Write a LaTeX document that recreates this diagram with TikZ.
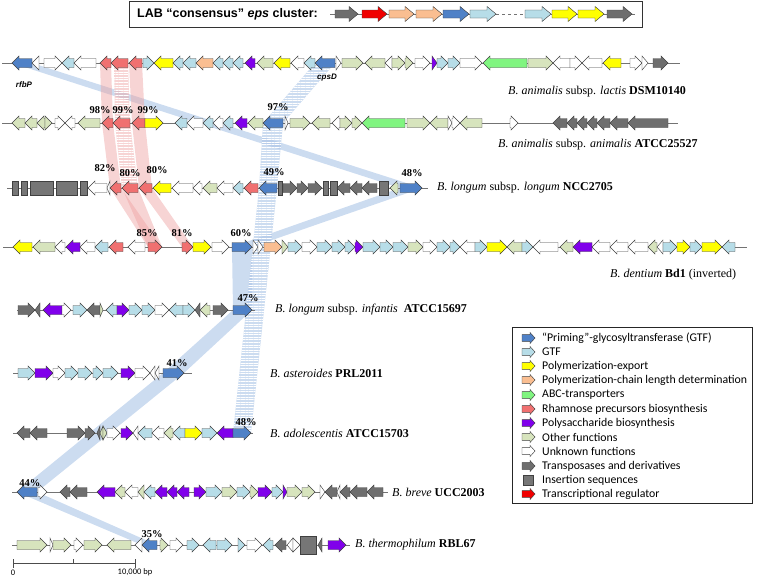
\documentclass[tikz,border=0pt]{standalone}
\usepackage{fontspec}
\setmainfont{Liberation Serif}
\newfontfamily\calfont{Carlito}
\newfontfamily\arifont{Liberation Sans}
\usetikzlibrary{patterns.meta}
\definecolor{pb}{RGB}{79,129,199}
\definecolor{gt}{RGB}{183,221,232}
\definecolor{ye}{RGB}{255,255,0}
\definecolor{or}{RGB}{250,190,145}
\definecolor{ab}{RGB}{128,245,128}
\definecolor{rh}{RGB}{240,112,112}
\definecolor{pu}{RGB}{128,0,235}
\definecolor{ot}{RGB}{215,228,189}
\definecolor{wh}{RGB}{255,255,255}
\definecolor{tr}{RGB}{110,110,110}
\definecolor{is}{RGB}{118,118,118}
\definecolor{tx}{RGB}{240,0,0}
\definecolor{bandB}{RGB}{170,196,230}
\definecolor{bandR}{RGB}{238,160,160}
\def\ry{0}\def\hl{7}\def\bh{4.5}\def\hw{7}
\newcommand\geneR[3]{\pgfmathsetmacro\hh{min(\hl,#2-#1)}%
  \filldraw[gene,fill=#3] (#1,\ry-\bh) -- (#2-\hh,\ry-\bh) -- (#2-\hh,\ry-\hw) -- (#2,\ry) -- (#2-\hh,\ry+\hw) -- (#2-\hh,\ry+\bh) -- (#1,\ry+\bh) -- cycle;}
\newcommand\geneL[3]{\pgfmathsetmacro\hh{min(\hl,#2-#1)}%
  \filldraw[gene,fill=#3] (#2,\ry-\bh) -- (#1+\hh,\ry-\bh) -- (#1+\hh,\ry-\hw) -- (#1,\ry) -- (#1+\hh,\ry+\hw) -- (#1+\hh,\ry+\bh) -- (#2,\ry+\bh) -- cycle;}
\newcommand\isel[2]{\filldraw[gene,fill=is] (#1,\ry-\hw) rectangle (#2,\ry+\hw);}
\newcommand\rowline[2]{\draw[rowln] (#1,\ry) -- (#2,\ry);}
\newcommand\cband[7]{\fill[#7] (#1,#3) -- (#2,#3) -- (#5,#6) -- (#4,#6) -- cycle;}
\tikzset{
  gene/.style={draw=black!75,line width=0.45pt},
  rowln/.style={draw=black!55,line width=0.7pt},
  bandS/.style={fill=bandB,fill opacity=0.6},
  bandH/.style={fill=bandB,fill opacity=0.6,postaction={pattern={Lines[distance=2.6pt,line width=0.9pt]},pattern color=white}},
  bandRS/.style={fill=bandR,fill opacity=0.45},
  bandRH/.style={fill=bandR,fill opacity=0.45,postaction={pattern={Lines[distance=2.6pt,line width=0.9pt]},pattern color=white}},
  pct/.style={font=\bfseries\fontsize{10.5}{12}\selectfont,inner sep=0pt},
  sp/.style={anchor=west,font=\fontsize{12}{14}\selectfont,inner sep=0pt},
  leg/.style={anchor=west,font=\calfont\fontsize{11.8}{13}\selectfont,inner sep=0pt},
  gname/.style={font=\arifont\bfseries\itshape\fontsize{8}{9}\selectfont,inner sep=0pt},
  sc/.style={font=\calfont\fontsize{8.5}{10}\selectfont,inner sep=0pt},
}
\begin{document}
\begin{tikzpicture}[x=1pt,y=-1pt]
\useasboundingbox (0,0) rectangle (760,579);
% ---------- homology bands ----------
\cband{12}{32}{63}{400}{422}{188}{bandS}
\cband{400}{422}{188}{232}{252}{247}{bandS}
\cband{232}{252}{247}{233}{252}{310}{bandS}
\cband{233}{252}{310}{163}{184}{373}{bandS}
\cband{163}{184}{373}{17}{37}{492}{bandS}
\cband{17}{37}{492}{142}{157}{545}{bandS}
\cband{315}{335}{63}{263}{283}{123}{bandH}
\cband{263}{283}{123}{259}{277}{188}{bandH}
\cband{259}{277}{188}{233}{251}{433}{bandH}
\cband{100}{111}{63}{102}{113}{123}{bandRS}
\cband{129}{142}{63}{132}{145}{123}{bandRS}
\cband{102}{113}{123}{110}{121}{188}{bandRS}
\cband{132}{145}{123}{139}{152}{188}{bandRS}
\cband{110}{121}{188}{148}{162}{247}{bandRS}
\cband{122}{138}{188}{148}{162}{247}{bandRS}
\cband{139}{152}{188}{182}{193}{247}{bandRS}
\cband{114}{128}{63}{115}{130}{123}{bandRH}
\cband{115}{130}{123}{122}{138}{188}{bandRH}
% ---------- top consensus box ----------
\node[anchor=east,inner sep=0pt,font=\arifont\bfseries\fontsize{12.5}{14}\selectfont] (ttl) at (318,14) {LAB “consensus” \textit{eps} cluster:};
\coordinate (tbr) at (642,27);
\path (ttl.west) ++(-8,0) coordinate (tbl);
\draw[line width=0.8pt,draw=black!80] (tbl |- 0,1) rectangle (tbr);
\def\ry{14}\def\hl{9}\def\bh{4}\def\hw{7.5}
\draw[rowln] (330,\ry) -- (496,\ry);
\draw[rowln,dashed] (496,\ry) -- (525,\ry);
\draw[rowln] (551,\ry) -- (632,\ry);
\draw[rowln,dashed] (632,\ry) -- (638,\ry);
\geneR{335}{358}{tr}\geneR{362}{387}{tx}\geneR{389}{414}{or}\geneR{416}{442}{or}
\geneR{443}{469}{pb}\geneR{470}{496}{gt}\geneR{525}{551}{gt}\geneR{552}{577}{ye}
\geneR{578}{604}{ye}\geneR{607}{632}{tr}
\def\hl{7}\def\bh{4.5}\def\hw{7}
% ---------- row 1 ----------
\def\ry{63}
\rowline{2}{680}
\geneL{12}{32}{pb}\geneL{32}{39}{wh}\geneR{44}{62}{wh}\geneL{62}{74}{gt}\geneL{74}{96}{wh}
\geneL{100}{111}{rh}\geneL{111}{128}{rh}\geneL{129}{142}{rh}\geneR{143}{154}{gt}
\geneL{154}{173}{ye}\geneL{173}{183}{gt}\geneL{183}{196}{gt}\geneL{196}{213}{or}
\geneL{213}{223}{gt}\geneL{223}{233}{gt}\geneL{233}{243}{gt}\geneL{245}{255}{pu}
\geneL{257}{273}{ot}\geneL{274}{290}{ye}\geneL{291}{304}{wh}\geneL{304}{315}{gt}
\geneL{315}{335}{pb}\geneR{336}{341}{wh}\geneR{342}{363}{ot}\geneL{365}{385}{ot}
\geneL{385}{392}{wh}\geneR{392}{405}{ot}\geneR{405}{413}{ot}\geneR{415}{430}{wh}
\geneR{432}{437}{pu}\geneR{437}{448}{gt}\geneR{448}{460}{gt}\geneR{460}{482}{wh}
\geneL{483}{527}{ab}\geneR{528}{553}{ot}\geneL{553}{570}{wh}\geneR{570}{582}{wh}
\geneL{582}{602}{wh}\geneL{603}{621}{ye}\geneR{630}{642}{wh}\geneR{642}{648}{wh}
\geneR{653}{668}{tr}
\node[gname] (rfbp) at (24,85) {rfbP};
\node[gname] (cpsd) at (327,78) {cpsD};
\node[sp] (s1) at (508,92) {\textit{B. animalis} subsp. \textit{lactis} \textbf{DSM10140}};
% ---------- row 2 ----------
\def\ry{123}
\rowline{2}{678}
\geneL{12}{25}{ot}\geneL{25}{37}{ot}\geneL{37}{45}{ot}\geneR{45}{52}{ot}\geneR{55}{65}{wh}
\geneL{65}{75}{wh}\geneL{78}{100}{ot}\geneL{102}{113}{rh}\geneL{113}{130}{rh}\geneL{132}{145}{rh}
\geneR{145}{163}{ye}\geneL{175}{187}{gt}\geneL{187}{203}{wh}\geneL{203}{213}{gt}\geneL{213}{223}{wh}
\geneL{223}{233}{gt}\geneL{235}{247}{pu}\geneL{248}{263}{ot}\geneL{263}{283}{pb}\geneR{285}{288}{wh}
\geneR{290}{310}{ot}\geneL{312}{330}{ot}\geneL{332}{340}{wh}\geneR{340}{352}{ot}\geneR{352}{362}{ot}
\geneL{362}{405}{ab}\geneR{407}{430}{ot}\geneL{430}{448}{ot}\geneR{448}{452}{wh}\geneR{452}{460}{wh}
\geneL{460}{482}{ot}\geneR{510}{518}{wh}
\geneL{553}{567}{tr}\geneL{567}{577}{tr}\geneL{577}{587}{tr}\geneL{587}{597}{tr}\geneL{597}{610}{tr}
\geneL{610}{628}{tr}\geneL{628}{668}{tr}
\node[pct] (p1) at (100,110) {98\%};
\node[pct] (p2) at (123,110) {99\%};
\node[pct] (p3) at (148,110) {99\%};
\node[pct] (p4) at (278,107) {97\%};
\node[sp] (s2) at (498,145) {\textit{B. animalis} subsp. \textit{animalis} \textbf{ATCC25527}};
% ---------- row 3 ----------
\def\ry{188}
\rowline{7}{428}
\isel{12}{18}\isel{21}{27}\isel{30}{53}\isel{56}{77}\isel{80}{87}
\geneL{88}{107}{wh}\geneL{107}{110}{wh}\geneL{110}{121}{rh}\geneL{122}{138}{rh}\geneL{139}{152}{rh}
\geneL{153}{171}{ye}\geneL{172}{193}{wh}\geneL{193}{202}{wh}\geneL{203}{217}{ot}\geneL{217}{233}{wh}
\geneL{233}{243}{gt}\geneL{244}{258}{rh}\geneL{259}{277}{pb}\isel{278}{282}
\geneR{283}{297}{tr}\geneR{297}{308}{tr}\geneR{308}{322}{tr}\isel{323}{328}\isel{330}{337}
\geneL{337}{350}{tr}\geneL{350}{362}{tr}\geneL{362}{377}{tr}\isel{379}{388}\geneL{390}{398}{ot}
\geneR{400}{422}{pb}
\node[pct] (p5) at (105,168) {82\%};
\node[pct] (p6) at (130,173) {80\%};
\node[pct] (p7) at (157,170) {80\%};
\node[pct] (p8) at (274,172) {49\%};
\node[pct] (p9) at (412,173) {48\%};
\node[sp] (s3) at (437,188) {\textit{B. longum} subsp. \textit{longum} \textbf{NCC2705}};
% ---------- row 4 ----------
\def\ry{247}
\rowline{3}{747}
\geneL{13}{32}{ye}\geneL{33}{55}{ot}\geneL{55}{65}{wh}\geneL{66}{80}{pu}\geneL{80}{95}{wh}
\geneL{95}{108}{gt}\geneL{109}{123}{rh}\geneL{128}{145}{wh}\geneR{148}{162}{rh}\geneR{182}{193}{rh}
\geneR{193}{211}{ye}\geneR{212}{229}{wh}\geneR{232}{252}{pb}\geneR{253}{258}{wh}\geneR{258}{263}{wh}
\geneR{264}{282}{or}\geneR{282}{288}{ot}\geneR{288}{302}{gt}\geneR{302}{317}{wh}\geneR{317}{332}{gt}
\geneR{332}{345}{gt}\geneR{345}{355}{gt}\geneR{355}{363}{pu}\geneR{363}{380}{gt}\geneR{380}{393}{gt}
\geneR{393}{408}{gt}\geneR{408}{423}{ot}\geneR{423}{437}{wh}\geneR{437}{450}{gt}\geneR{450}{460}{gt}
\geneL{460}{475}{wh}\geneR{475}{487}{gt}\geneR{487}{507}{ye}\geneL{507}{522}{ot}\geneR{522}{533}{gt}
\geneL{533}{558}{wh}\geneL{560}{573}{ot}\geneL{573}{592}{pu}\geneL{592}{610}{wh}\geneL{610}{628}{wh}
\geneL{628}{648}{wh}\geneL{648}{657}{ot}\geneL{657}{663}{wh}\geneR{663}{677}{gt}\geneR{677}{690}{ye}
\geneR{690}{702}{gt}\geneR{702}{722}{ye}\geneL{722}{735}{gt}
\node[pct] (p10) at (147,233) {85\%};
\node[pct] (p11) at (182,233) {81\%};
\node[pct] (p12) at (241,233) {60\%};
\node[sp] (s4) at (610,275) {\textit{B. dentium} \textbf{Bd1} (inverted)};
% ---------- row 5 ----------
\def\ry{310}
\rowline{17}{255}
\geneR{18}{35}{tr}\geneL{35}{40}{tr}\geneL{43}{62}{pu}\geneR{62}{71}{wh}\geneR{73}{87}{gt}
\geneL{87}{100}{tr}\geneR{100}{103}{ot}\geneL{106}{117}{gt}\geneR{117}{129}{pu}\geneR{129}{142}{gt}
\geneR{142}{155}{gt}\geneR{155}{169}{wh}\geneL{169}{183}{gt}\geneR{183}{195}{gt}\geneL{195}{200}{tr}
\geneL{200}{210}{ot}\geneR{213}{228}{tr}\geneR{233}{252}{pb}
\node[pct] (p13) at (248,298) {47\%};
\node[sp] (s5) at (275,310) {\textit{B. longum} subsp. \textit{infantis}\ \ \textbf{ATCC15697}};
% ---------- row 6 ----------
\def\ry{373}
\rowline{13}{192}
\geneR{18}{35}{gt}\geneR{35}{53}{pu}\geneR{53}{65}{wh}\geneR{65}{78}{gt}\geneR{78}{92}{gt}
\geneR{93}{103}{gt}\geneR{103}{118}{gt}\geneR{121}{135}{pu}\geneR{135}{150}{wh}\geneL{150}{155}{wh}
\geneL{155}{159}{wh}\geneR{163}{184}{pb}
\node[pct] (p14) at (177,363) {41\%};
\node[sp] (s6) at (270,373) {\textit{B. asteroides} \textbf{PRL2011}};
% ---------- row 7 ----------
\def\ry{433}
\rowline{13}{253}
\geneL{17}{30}{tr}\geneL{30}{47}{tr}\geneR{67}{85}{tr}\geneR{85}{95}{tr}\geneL{97}{100}{tr}
\geneL{100}{103}{ot}\geneR{103}{107}{ot}\geneR{107}{120}{wh}\geneR{121}{133}{pu}\geneL{133}{138}{wh}
\geneL{138}{152}{gt}\geneL{152}{164}{wh}\geneL{164}{173}{ot}\geneL{173}{185}{gt}\geneR{185}{202}{ye}
\geneR{202}{217}{gt}\geneL{217}{233}{pu}\geneR{233}{251}{pb}
\node[pct] (p15) at (246,422) {48\%};
\node[sp] (s7) at (270,433) {\textit{B. adolescentis} \textbf{ATCC15703}};
% ---------- row 8 ----------
\def\ry{492}
\rowline{12}{388}
\geneL{17}{37}{pb}\geneR{38}{47}{wh}\geneL{60}{70}{tr}\geneL{70}{87}{tr}\geneL{97}{115}{pu}
\geneL{115}{125}{ot}\geneL{125}{138}{wh}\geneL{138}{144}{ot}\geneL{144}{155}{gt}\geneL{155}{167}{pu}
\geneL{167}{177}{pu}\geneL{177}{189}{pu}\geneR{194}{206}{pu}\geneR{206}{222}{gt}\geneR{222}{237}{ot}
\geneR{237}{250}{gt}\geneR{250}{258}{ot}\geneR{258}{272}{pu}\geneR{272}{283}{gt}\geneR{283}{287}{pu}
\geneR{287}{302}{ot}\geneR{302}{315}{ot}\geneR{320}{325}{wh}\geneL{325}{337}{tr}\geneL{337}{340}{wh}
\geneL{340}{350}{tr}\geneL{350}{367}{tr}\geneL{367}{383}{tr}
\node[pct] (p16) at (30,483) {44\%};
\node[sp] (s8) at (392,492) {\textit{B. breve} \textbf{UCC2003}};
% ---------- row 9 ----------
\def\ry{545}
\rowline{12}{350}
\geneR{17}{47}{ot}\geneR{50}{53}{wh}\geneR{53}{71}{ot}\geneR{74}{83}{wh}\geneR{84}{102}{ot}
\geneL{107}{131}{ot}\geneL{135}{142}{wh}\geneL{142}{157}{pb}\geneR{160}{168}{ot}\geneR{170}{183}{wh}
\geneR{187}{199}{gt}\geneL{203}{216}{gt}\geneR{217}{232}{gt}\geneR{238}{245}{gt}\geneR{247}{262}{wh}
\geneL{263}{273}{gt}\geneL{275}{286}{tr}\geneL{287}{293}{wh}\geneR{293}{300}{wh}
\filldraw[gene,fill=is] (300,536) rectangle (316,554);
\geneL{318}{322}{tr}\geneR{328}{346}{pu}
\node[pct] (p17) at (152,534) {35\%};
\node[sp] (s9) at (355,545) {\textit{B. thermophilum} \textbf{RBL67}};
% ---------- scale bar ----------
\coordinate (sb0) at (13,563);
\coordinate (sb1) at (135,563);
\draw[line width=0.6pt,black!70] (sb0) -- (sb1);
\draw[line width=0.6pt,black!70] (13,559) -- (13,568) (135,559) -- (135,568) (73,559) -- (73,563);
\node[sc] (sbl0) at (13,572.5) {0};
\node[sc] (sbl1) at (135,572.5) {10,000 bp};
% ---------- legend ----------
\draw[line width=0.7pt,black!85] (512,327) rectangle (752,503);
\def\hl{5}\def\bh{3.3}\def\hw{5.5}
\def\ry{338}\geneR{522}{535}{pb}\node[leg] (l1) at (542,\ry) {“Priming”-glycosyltransferase (GTF)};
\def\ry{352}\geneR{522}{535}{gt}\node[leg] (l2) at (542,\ry) {GTF};
\def\ry{366}\geneR{522}{535}{ye}\node[leg] (l3) at (542,\ry) {Polymerization-export};
\def\ry{380}\geneR{522}{535}{or}\node[leg] (l4) at (542,\ry) {Polymerization-chain length determination};
\def\ry{395}\geneR{522}{535}{ab}\node[leg] (l5) at (542,\ry) {ABC-transporters};
\def\ry{409}\geneR{522}{535}{rh}\node[leg] (l6) at (542,\ry) {Rhamnose precursors biosynthesis};
\def\ry{423}\geneR{522}{535}{pu}\node[leg] (l7) at (542,\ry) {Polysaccharide biosynthesis};
\def\ry{437}\geneR{522}{535}{ot}\node[leg] (l8) at (542,\ry) {Other functions};
\def\ry{451}\geneR{522}{535}{wh}\node[leg] (l9) at (542,\ry) {Unknown functions};
\def\ry{466}\geneR{522}{535}{tr}\node[leg] (l10) at (542,\ry) {Transposases and derivatives};
\def\ry{480}\filldraw[gene,fill=is] (523,\ry-5) rectangle (533,\ry+5);\node[leg] (l11) at (542,\ry) {Insertion sequences};
\def\ry{494}\geneR{522}{535}{tx}\node[leg] (l12) at (542,\ry) {Transcriptional regulator};
\end{tikzpicture}
\end{document}
